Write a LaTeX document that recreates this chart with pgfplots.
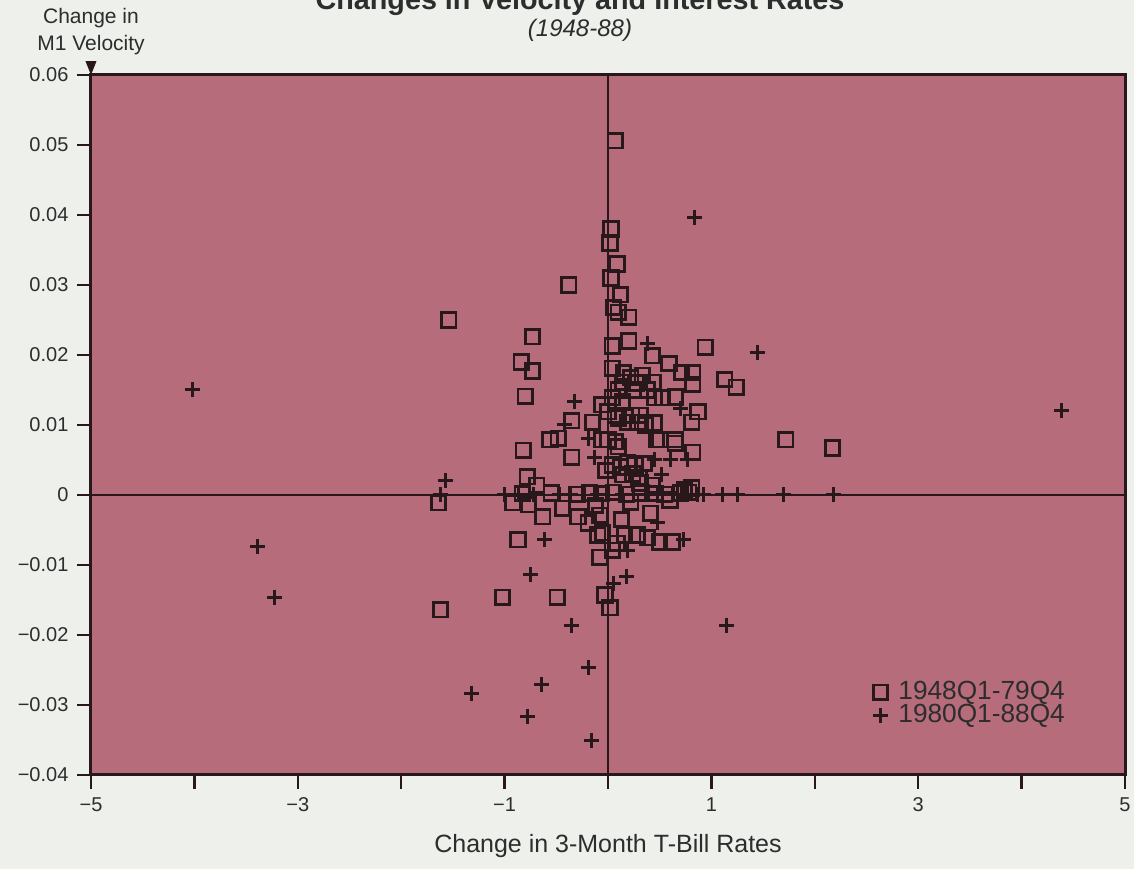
\documentclass[border=0pt]{standalone}
\usepackage{fontspec}
\setmainfont{Liberation Sans}
\usepackage{pgfplots}
\pgfplotsset{compat=1.18}
\definecolor{plotbg}{RGB}{182,108,122}
\definecolor{pagebg}{RGB}{238,240,236}
\definecolor{ink}{RGB}{40,24,28}
\definecolor{txt}{RGB}{45,45,45}

\pgfplotstableread{
x y
0.07 0.0506
0.03 0.0380
0.02 0.0360
0.09 0.0330
0.03 0.0310
-0.38 0.0300
0.12 0.0286
0.05 0.0268
0.10 0.0261
0.20 0.0254
-1.54 0.0250
-0.73 0.0226
0.04 0.0213
0.20 0.0220
0.94 0.0211
-0.84 0.0190
-0.73 0.0177
0.43 0.0199
0.59 0.0188
0.71 0.0175
0.82 0.0175
0.82 0.0158
1.13 0.0165
1.24 0.0154
-0.80 0.0141
0.04 0.0181
0.14 0.0161
0.33 0.0171
0.44 0.0161
0.45 0.0139
0.65 0.0140
0.53 0.0139
0.87 0.0119
0.81 0.0104
0.45 0.0103
0.31 0.0114
0.65 0.0079
0.47 0.0079
0.19 0.0104
0.07 0.0114
-0.06 0.0129
0.00 0.0079
0.04 0.0139
0.14 0.0133
0.00 0.0119
0.10 0.0110
0.23 0.0114
0.29 0.0104
0.36 0.0100
-0.06 0.0079
0.07 0.0076
-0.35 0.0106
-0.15 0.0104
-0.48 0.0081
-0.56 0.0079
-0.82 0.0064
-0.35 0.0054
0.50 0.0079
0.65 0.0074
0.82 0.0061
0.10 0.0069
0.04 0.0043
0.19 0.0046
0.26 0.0043
0.14 0.0029
0.31 0.0017
0.43 0.0014
0.60 -0.0007
0.74 0.0007
0.81 0.0010
1.72 0.0079
2.17 0.0067
-0.78 0.0026
-0.69 0.0014
-1.64 -0.0011
-0.92 -0.0011
-0.77 -0.0014
-0.63 -0.0031
-0.44 -0.0019
-0.29 -0.0031
-0.19 -0.0040
-0.08 -0.0029
-0.10 -0.0057
-0.87 -0.0064
-0.08 -0.0089
0.41 -0.0026
-0.05 -0.0054
0.16 -0.0057
0.28 -0.0057
0.38 -0.0061
0.50 -0.0067
0.62 -0.0067
0.09 -0.0069
0.04 -0.0079
-1.62 -0.0164
-1.02 -0.0146
-0.49 -0.0146
-0.03 -0.0143
0.02 -0.0161
-0.83 0.0002
-0.55 0.0003
-0.30 0.0001
-0.18 0.0003
-0.06 0.0002
0.05 0.0004
0.18 0.0001
0.32 0.0003
0.46 0.0002
0.55 0.0001
0.70 0.0003
0.78 0.0004
0.12 0.0040
0.24 0.0030
-0.02 0.0035
0.35 0.0045
0.22 -0.0010
0.30 0.0025
-0.12 -0.0015
0.13 -0.0035
0.15 0.0175
0.22 0.0168
0.27 0.0160
0.10 0.0150
0.38 0.0150
0.25 0.0150
}\earlydata

\pgfplotstableread{
x y
-4.02 0.0151
0.84 0.0396
1.45 0.0204
4.39 0.0121
-3.39 -0.0073
-3.23 -0.0146
-1.32 -0.0283
-0.78 -0.0316
-0.64 -0.0271
-0.19 -0.0247
-0.16 -0.0351
0.38 0.0217
-1.57 0.0020
-0.32 0.0133
-0.19 0.0081
-0.42 0.0100
-0.13 0.0053
0.70 0.0124
0.45 0.0050
0.60 0.0050
0.77 0.0050
0.52 0.0029
0.48 -0.0040
0.73 -0.0064
0.19 -0.0079
-0.61 -0.0064
-0.75 -0.0114
0.18 -0.0117
0.05 -0.0126
-0.35 -0.0186
1.15 -0.0186
-1.62 0
-1.00 0
-0.87 0
-0.72 0
-0.47 0
-0.36 0
-0.10 0
0.14 0
0.36 0
0.62 0
0.75 0
0.87 0
0.92 0
1.11 0
1.25 0
1.70 0
2.18 0
}\latedata

\begin{document}
\begin{tikzpicture}
\fill[pagebg] (-36.4pt,-37.6pt) rectangle (417.2pt,310pt);
\begin{axis}[
  scale only axis,
  width=413.6pt, height=280pt,
  xmin=-5, xmax=5, ymin=-0.04, ymax=0.06,
  scaled y ticks=false,
  axis background/.style={fill=plotbg},
  axis line style={ink, line width=1.2pt},
  xtick={-5,-4,-3,-2,-1,0,1,2,3,4,5},
  xticklabels={−5,,−3,,−1,,1,,3,,5},
  ytick={-0.04,-0.03,-0.02,-0.01,0,0.01,0.02,0.03,0.04,0.05,0.06},
  yticklabels={−0.04,−0.03,−0.02,−0.01,0,0.01,0.02,0.03,0.04,0.05,0.06},
  xtick pos=bottom, ytick pos=left,
  tick align=outside,
  major tick length=5.5pt,
  tick style={ink, line width=1pt},
  tick label style={font=\fontsize{8}{10}\selectfont, text=txt},
  xlabel={Change in 3-Month T-Bill Rates},
  xlabel style={font=\fontsize{10}{12}\selectfont, text=txt, yshift=-2pt},
  legend style={draw=none, fill=none, font=\fontsize{10.5}{12}\selectfont, text=txt,
    at={(rel axis cs:0.748,0.149)}, anchor=north west, row sep=-3.6pt,
    legend cell align=left},
  legend image code/.code={\draw[#1] plot coordinates {(0pt,0pt)}; \path (5pt,0pt) (-3pt,0pt);},
  clip=false,
]
\draw[ink, line width=1pt] (axis cs:0,-0.04) -- (axis cs:0,0.06);
\draw[ink, line width=1pt] (axis cs:-5,0) -- (axis cs:5,0);
\addplot[only marks, mark=square, mark size=2.9pt, draw=ink, mark options={line width=1.1pt}]
  table[x=x,y=y] {\earlydata};
\addlegendentry{1948Q1-79Q4}
\addplot[only marks, mark=+, mark size=3pt, draw=ink, mark options={line width=1.2pt}]
  table[x=x,y=y] {\latedata};
\addlegendentry{1980Q1-88Q4}
\fill[ink] (axis cs:-5,0.06) -- ++(-2.2pt,5.5pt) -- ++(4.4pt,0pt) -- cycle;
\end{axis}
\node[anchor=base, font=\fontsize{8.4}{10}\selectfont, text=txt] at (0pt,289.6pt) {M1 Velocity};
\node[anchor=base, font=\fontsize{8.4}{10}\selectfont, text=txt] at (0pt,300.4pt) {Change in};
\node[anchor=base, font=\bfseries\fontsize{11.5}{13}\selectfont, text=txt] at (195.6pt,306pt) {Changes in Velocity and Interest Rates};
\node[anchor=base, font=\itshape\fontsize{9.6}{11}\selectfont, text=txt] at (195.6pt,295.2pt) {(1948-88)};
\pgfresetboundingbox
\useasboundingbox (-36.4pt,-37.6pt) rectangle (417.2pt,310pt);
\end{tikzpicture}
\end{document}
